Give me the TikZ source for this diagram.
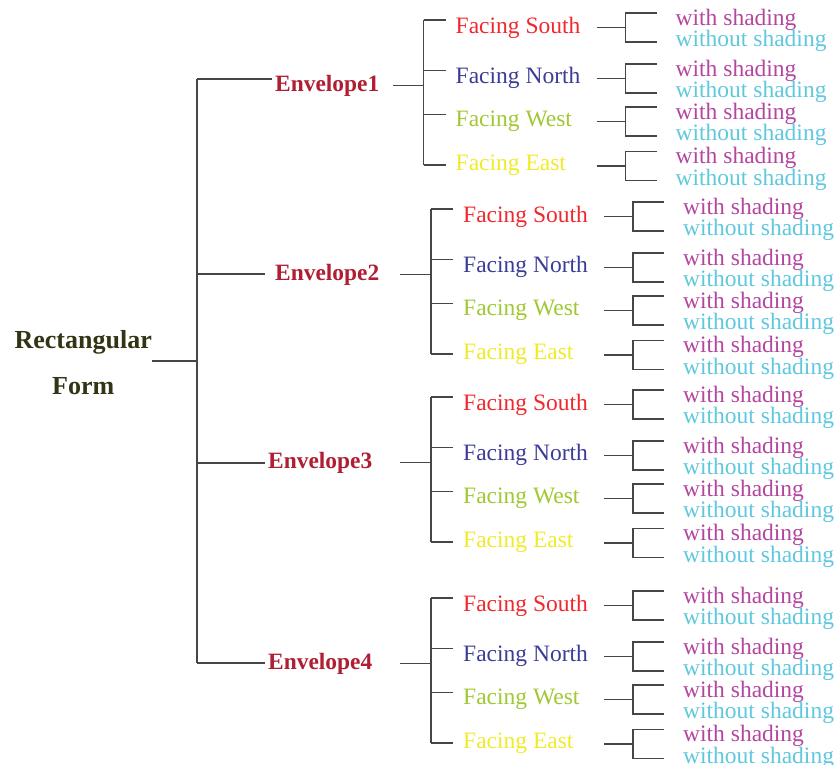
\documentclass[tikz,border=0pt]{standalone}
\usepackage{fontspec}
\setmainfont{Liberation Serif}
\definecolor{rootc}{RGB}{50,52,20}
\definecolor{envc}{RGB}{175,30,50}
\definecolor{southc}{RGB}{240,40,45}
\definecolor{northc}{RGB}{60,60,150}
\definecolor{westc}{RGB}{160,200,50}
\definecolor{eastc}{RGB}{240,235,40}
\definecolor{withc}{RGB}{180,70,160}
\definecolor{withoutc}{RGB}{95,200,222}
\definecolor{linec}{RGB}{70,70,70}
\begin{document}
\begin{tikzpicture}[x=1pt,y=-1pt,
  conn/.style={draw=linec,line width=1.3pt},
  lbl/.style={inner sep=0pt,anchor=base west,font=\fontsize{23.5}{24}\selectfont},
  envlbl/.style={lbl,text=envc,font=\fontsize{23.4}{24}\selectfont\bfseries},
  rootlbl/.style={inner sep=0pt,anchor=east,align=center,text=rootc,font=\fontsize{26}{46}\selectfont\bfseries}]
\useasboundingbox (0,0) rectangle (837,764);
\node[rootlbl] (root) at (152,363) {Rectangular\\Form};
\coordinate (trunk) at (197,361);
\draw[conn] (root.east |- trunk) -- (trunk);
\foreach \g/\top/\dx/\ex/\elx/\erx/\ely in {1/20/-7.5/275/272/393/79, 2/209/0/275/265/400/274, 3/397/0/268/265/400/463, 4/598/0/268/265/400/663}{
  \coordinate (tk\g) at (197,\ely);
  \coordinate (el\g) at (\elx,\ely);
  \node[envlbl] (env\g) at (\ex,{\top+71}) {Envelope\g};
  \coordinate (er\g) at (\erx,{\top+65.5});
  \coordinate (fv\g) at ({431+\dx},{\top+65.5});
  \draw[conn] (tk\g) -- (el\g);
  \draw[conn] (er\g) -- (fv\g);
  \foreach \i/\nm/\col/\tk/\ty/\md in {1/South/southc/0/6.5/7.5, 2/North/northc/50.5/56.5/58.5, 3/West/westc/94.5/100/101.5, 4/East/eastc/145/144/146}{
    \coordinate (fk\g\i) at ({431+\dx},{\top+\tk});
    \coordinate (fe\g\i) at ({453+\dx},{\top+\tk});
    \node[lbl,text=\col] (f\g\i) at ({463+\dx},{\top+\ty+6.5}) {Facing \nm};
    \draw[conn] (fk\g\i) -- (fe\g\i);
    \coordinate (bj\g\i) at ({604+\dx},{\top+\md});
    \coordinate (bm\g\i) at ({633+\dx},{\top+\md});
    \coordinate (bt\g\i) at ({633+\dx},{\top+\md-14.5});
    \coordinate (bb\g\i) at ({633+\dx},{\top+\md+14.5});
    \coordinate (bte\g\i) at ({664+\dx},{\top+\md-14.5});
    \coordinate (bbe\g\i) at ({664+\dx},{\top+\md+14.5});
    \draw[conn] (bj\g\i) -- (bm\g\i);
    \draw[conn] (bte\g\i) -- (bt\g\i) -- (bb\g\i) -- (bbe\g\i);
    \node[lbl,text=withc] (w\g\i) at ({683+\dx},{\top+\md-2.5}) {with shading};
    \node[lbl,text=withoutc] (wo\g\i) at ({683+\dx},{\top+\md+19}) {without shading};
  }
  \draw[conn] (fk\g1) -- (fk\g4);
}
\draw[conn] (tk1) -- (tk4);
\end{tikzpicture}
\end{document}
